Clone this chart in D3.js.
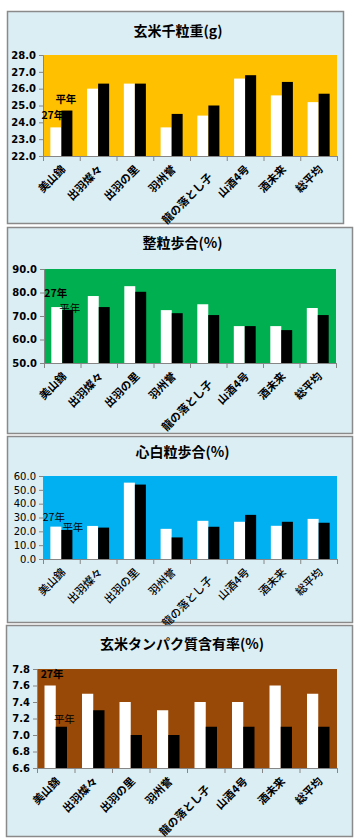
<!DOCTYPE html>
<html><head><meta charset="utf-8">
<script src="https://cdn.jsdelivr.net/npm/d3@7"></script>
<style>
html,body{margin:0;padding:0;background:#fff;}
svg{display:block;}
</style></head>
<body>
<svg id="chart" width="357" height="839"></svg>
<script>
// ---- data ----
const categories = ["美山錦","出羽燦々","出羽の里","羽州誉","龍の落とし子","山酒4号","酒未来","総平均"];
const seriesNames = ["27年","平年"];
const titles = ["玄米千粒重(g)","整粒歩合(%)","心白粒歩合(%)","玄米タンパク質含有率(%)"];

const weight27  = [23.7, 26.0, 26.3, 23.7, 24.4, 26.6, 25.6, 25.2];
const weightAvg = [24.7, 26.3, 26.3, 24.5, 25.0, 26.8, 26.4, 25.7];
const whole27   = [73.8, 78.5, 82.7, 72.5, 75.0, 65.7, 65.7, 73.4];
const wholeAvg  = [72.6, 73.8, 80.3, 71.2, 70.4, 65.7, 64.0, 70.4];
const chalky27  = [23.4, 23.9, 55.2, 21.8, 27.6, 26.9, 24.0, 29.0];
const chalkyAvg = [21.0, 22.7, 53.8, 15.6, 23.3, 31.9, 26.9, 26.2];
const protein27 = [7.6, 7.5, 7.4, 7.3, 7.4, 7.4, 7.6, 7.5];
const proteinAvg= [7.1, 7.3, 7.0, 7.0, 7.1, 7.1, 7.1, 7.1];

const yTicks1 = [22,23,24,25,26,27,28];
const yTicks2 = [50,60,70,80,90];
const yTicks3 = [0,10,20,30,40,50,60];
const yTicks4 = [6.6,6.8,7.0,7.2,7.4,7.6,7.8];

// ---- layout / style ----
const panels = [
  {title:titles[0], a:weight27, b:weightAvg, ticks:yTicks1, fmt:".1f",
   box:{x:7,y:11,w:336,h:212}, plot:{l:43,t:55,r:337,b:156}, titleY:36,
   fill:"#FFC000", tickBold:true, catWeight:"bold",
   lab:[{dx:-3,dy:-8,bold:true},{dx:-1,dy:-8,bold:true}]},
  {title:titles[1], a:whole27, b:wholeAvg, ticks:yTicks2, fmt:".1f",
   box:{x:7,y:227,w:345,h:206}, plot:{l:44,t:269,r:336,b:363}, titleY:248,
   fill:"#00B050", tickBold:true, catWeight:"bold",
   lab:[{dx:-1,dy:-10,bold:true},{dx:2,dy:2,bold:false}]},
  {title:titles[2], a:chalky27, b:chalkyAvg, ticks:yTicks3, fmt:".1f",
   box:{x:7,y:436,w:345,h:186}, plot:{l:43,t:476,r:337,b:559}, titleY:457,
   fill:"#00B0F0", tickBold:false, catWeight:"500",
   lab:[{dx:-2,dy:-6,bold:false},{dx:6,dy:1,bold:false}]},
  {title:titles[3], a:protein27, b:proteinAvg, ticks:yTicks4, fmt:".1f",
   box:{x:6,y:625,w:346,h:211}, plot:{l:37,t:669,r:337,b:768}, titleY:649,
   fill:"#984807", tickBold:true, catWeight:"bold",
   lab:[{dx:2,dy:-8,bold:true},{dx:3,dy:-4,bold:false}]}
];

const svg = d3.select("#chart");
const cjk = "'Noto Sans CJK JP','Noto Sans',sans-serif";
const num = "'DejaVu Sans',sans-serif";
const axisColor = "#868686";

panels.forEach(p => {
  const g = svg.append("g");
  g.append("rect").attr("x",p.box.x+0.5).attr("y",p.box.y+0.5)
    .attr("width",p.box.w).attr("height",p.box.h)
    .attr("fill","#DBEEF4").attr("stroke","#8a8a8a").attr("stroke-width",1.5);

  g.append("text").attr("x",p.box.x+p.box.w/2+3).attr("y",p.titleY)
    .attr("text-anchor","middle").attr("font-family",cjk).attr("font-weight","bold")
    .attr("font-size",14).attr("fill","#000").text(p.title);

  const x0 = d3.scaleBand().domain(categories).range([p.plot.l,p.plot.r])
    .paddingInner(0.4).paddingOuter(0.2);
  const x1 = d3.scaleBand().domain(seriesNames).range([0,x0.bandwidth()]);
  const y = d3.scaleLinear().domain(d3.extent(p.ticks)).range([p.plot.b,p.plot.t]);

  g.append("rect").attr("x",p.plot.l).attr("y",p.plot.t)
    .attr("width",p.plot.r-p.plot.l).attr("height",p.plot.b-p.plot.t).attr("fill",p.fill);

  const rows = categories.map((c,i)=>({c, vals:[p.a[i],p.b[i]]}));
  const grp = g.selectAll(".cat").data(rows).enter().append("g")
    .attr("transform",d=>`translate(${x0(d.c)},0)`);
  grp.selectAll("rect").data(d=>d.vals.map((v,j)=>({s:seriesNames[j],v})))
    .enter().append("rect")
    .attr("x",d=>x1(d.s)).attr("width",x1.bandwidth())
    .attr("y",d=>y(d.v)).attr("height",d=>p.plot.b-y(d.v))
    .attr("fill",(d,j)=>j===0?"#FFFFFF":"#000000");

  // y axis
  const ya = d3.axisLeft(y).tickValues(p.ticks).tickFormat(d3.format(p.fmt)).tickSize(4).tickPadding(3);
  const yg = g.append("g").attr("transform",`translate(${p.plot.l},0)`).call(ya);
  yg.select(".domain").attr("stroke",axisColor).attr("d",`M-4,${p.plot.t+0.5}H0.5V${p.plot.b}`);
  yg.selectAll(".tick line").attr("stroke",axisColor);
  yg.selectAll(".tick text").attr("font-family",num).attr("font-size",10)
    .attr("font-weight",p.tickBold?"bold":"normal").attr("fill","#000");

  // x axis
  const step = x0.step();
  const bounds = d3.range(categories.length+1).map(i => p.plot.l + i*step);
  g.append("line").attr("x1",p.plot.l).attr("x2",p.plot.r).attr("y1",p.plot.b+0.5).attr("y2",p.plot.b+0.5)
    .attr("stroke",axisColor);
  g.selectAll(".xt").data(bounds).enter().append("line")
    .attr("x1",d=>d+0.5).attr("x2",d=>d+0.5).attr("y1",p.plot.b).attr("y2",p.plot.b+5)
    .attr("stroke",axisColor);
  g.selectAll(".xl").data(categories).enter().append("text")
    .attr("transform",d=>`translate(${x0(d)+x0.bandwidth()/2+5},${p.plot.b+14+Math.max(0,d.length-4)*4}) rotate(-45)`)
    .attr("text-anchor","end").attr("font-family",cjk).attr("font-size",11)
    .attr("font-weight",p.catWeight).attr("fill","#000").text(d=>d);

  // series name labels on first category
  seriesNames.forEach((s,j)=>{
    const v = j===0 ? p.a[0] : p.b[0];
    const L = p.lab[j];
    g.append("text")
      .attr("x", x0(categories[0]) + x1(s) + x1.bandwidth()/2 + L.dx)
      .attr("y", y(v) + L.dy)
      .attr("text-anchor","middle").attr("font-family",cjk).attr("font-size",10.5)
      .attr("font-weight",L.bold?"bold":"normal").attr("fill","#000").text(s);
  });
});
</script>
</body></html>
